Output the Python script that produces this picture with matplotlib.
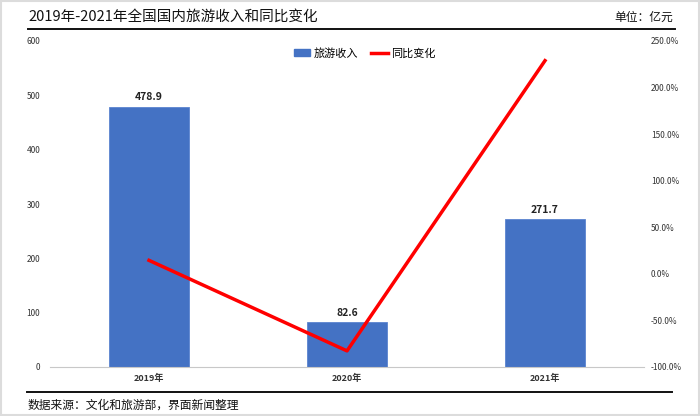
import numpy as np
import matplotlib.pyplot as plt
from matplotlib.lines import Line2D
from matplotlib.patches import Patch, Rectangle

plt.rcParams['font.family'] = ['Noto Sans CJK SC', 'DejaVu Sans']

years = ['2019年', '2020年', '2021年']
revenue = [478.9, 82.6, 271.7]
growth = [14.5, -82.7, 228.9]
left_ticks = [0, 100, 200, 300, 400, 500, 600]
right_ticks = [-100, -50, 0, 50, 100, 150, 200, 250]

W, H = 700, 416
fig = plt.figure(figsize=(W / 100, H / 100), dpi=100)
fig.patch.set_facecolor('white')

# light frame round the whole picture
fig.patches.append(Rectangle((0.001, 0.002), 0.997, 0.995, transform=fig.transFigure,
                             fill=False, edgecolor='#dcdcdc', linewidth=1.5))

ax1 = fig.add_axes([50 / W, 1 - 367 / H, 594 / W, 326 / H])
x = np.arange(len(years))
bars = ax1.bar(x, revenue, width=0.4, color='#4472c4', edgecolor='#5b84d0', linewidth=0.6, zorder=2)
ax1.set_xlim(-0.5, 2.5)
ax1.set_ylim(0, 600)
ax1.set_yticks(left_ticks)
ax1.set_xticks(x)
ax1.set_xticklabels(years, fontsize=6.5, fontweight='bold', color='#333333')
ax1.tick_params(axis='y', length=0, labelsize=6, labelcolor='#333333', pad=7)
ax1.tick_params(axis='x', length=0, pad=5)
for s in ['top', 'left', 'right']:
    ax1.spines[s].set_visible(False)
ax1.spines['bottom'].set_color('#c8c8c8')
ax1.spines['bottom'].set_linewidth(0.8)
for b, v in zip(bars, revenue):
    ax1.text(b.get_x() + b.get_width() / 2, v + 8, f'{v:.1f}', ha='center', va='bottom',
             fontsize=7.5, fontweight='bold', color='#222222')

ax2 = ax1.twinx()
ax2.plot(x, growth, color='#ff0000', linewidth=2.5, zorder=3)
ax2.set_ylim(-100, 250)
ax2.set_yticks(right_ticks)
ax2.set_yticklabels([f'{t:.1f}%' for t in right_ticks])
ax2.tick_params(axis='y', length=0, labelsize=6, labelcolor='#333333', pad=5)
for s in ['top', 'left', 'right', 'bottom']:
    ax2.spines[s].set_visible(False)

handles = [Patch(facecolor='#4472c4', edgecolor='#4472c4'),
           Line2D([0], [0], color='#ff0000', linewidth=2.5)]
ax1.legend(handles, ['旅游收入', '同比变化'], loc='upper center', bbox_to_anchor=(0.53, 1.01),
           ncol=2, frameon=False, fontsize=8, handlelength=1.5, handleheight=0.6,
           columnspacing=1.2, handletextpad=0.3)

# title, unit, rules and source
fig.text(28 / W, 1 - 17 / H, '2019年-2021年全国国内旅游收入和同比变化', fontsize=10.5,
         ha='left', va='center', color='#111111')
fig.text(673 / W, 1 - 17 / H, '单位：亿元', fontsize=8.5, ha='right', va='center', color='#111111')
fig.add_artist(Line2D([28 / W, 675 / W], [1 - 29 / H] * 2, color='#111111', linewidth=1.4))
fig.add_artist(Line2D([27 / W, 672 / W], [1 - 392 / H] * 2, color='#111111', linewidth=1.4))
fig.text(28 / W, 1 - 405 / H, '数据来源：文化和旅游部，界面新闻整理', fontsize=8.5,
         ha='left', va='center', color='#111111')

fig.savefig('out.png', dpi=100)
